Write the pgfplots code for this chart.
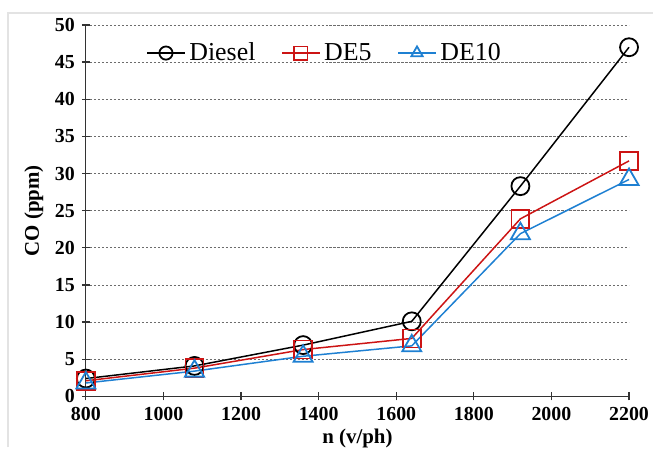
\documentclass[border=0pt]{standalone}
\usepackage{pgfplots}
\pgfplotsset{compat=1.18}
\usepackage{fontspec}
\setmainfont{Liberation Serif}
\definecolor{de5red}{RGB}{204,20,20}
\definecolor{de10blue}{RGB}{30,128,210}

\begin{document}
\begin{tikzpicture}
\begin{axis}[
  scale only axis, width=272bp, height=186bp,
  xmin=800, xmax=2200, ymin=0, ymax=50,
  xtick={800,1000,...,2200}, ytick={0,5,...,50},
  axis x line*=bottom, axis y line*=left,
  axis line style={line width=0.6pt, black!80},
  tick align=center, major tick length=4bp,
  tick style={black!80, line width=0.6pt},
  ymajorgrids, grid style={dash pattern=on 1.2bp off 0.8bp, gray!85!black, line width=0.4pt},
  tick label style={font=\rmfamily\bfseries\fontsize{10}{11}\selectfont},
  /pgf/number format/assume math mode=true,
  /pgf/number format/1000 sep={},
  xlabel={n (v/ph)}, ylabel={CO (ppm)},
  label style={font=\rmfamily\bfseries\fontsize{10.5}{12}\selectfont},
  ylabel style={yshift=-1bp},
  xlabel style={yshift=2.5bp},
  clip=false,
  legend columns=3,
  legend style={draw=none, fill=none, font=\rmfamily\fontsize{13}{15}\selectfont,
    at={(0.1,0.975)}, anchor=north west,
    /tikz/every even column/.append style={column sep=11bp}},
  legend image code/.code={
    \draw[mark repeat=2,mark phase=2] plot coordinates {(0cm,0cm)(0.33cm,0cm)(0.66cm,0cm)};},
  legend image post style={mark size=3.3bp},
  every axis plot/.append style={line width=0.75pt, mark size=4.5bp,
    mark options={solid, fill=white, line width=0.9pt}},
]
% Diesel
\addplot[black, mark=o] coordinates {
  (800,2.4)(1080,4.1)(1360,6.9)(1640,10.1)(1920,28.3)(2200,47.0)};
\addlegendentry{Diesel}
% DE5
\addplot[de5red, mark=square] coordinates {
  (800,2.1)(1080,3.8)(1360,6.3)(1640,7.8)(1920,23.9)(2200,31.7)};
\addlegendentry{DE5}
% DE10
\addplot[de10blue, mark=triangle, mark size=5.5bp] coordinates {
  (800,1.8)(1080,3.4)(1360,5.4)(1640,6.8)(1920,21.9)(2200,29.2)};
\addlegendentry{DE10}
\end{axis}
\pgfresetboundingbox
\path ([shift={(-43bp,-25.5bp)}]current axis.south west) coordinate (bbsw)
  rectangle ([shift={(12bp,12.5bp)}]current axis.north east) coordinate (bbne);
\draw[gray!22, line width=1bp]
  ([shift={(-39bp,-25.5bp)}]current axis.south west)
  -- ([shift={(-39bp,6bp)}]current axis.south west |- current axis.north east)
  -- ([shift={(12bp,6bp)}]current axis.north east);
\end{tikzpicture}
\end{document}
